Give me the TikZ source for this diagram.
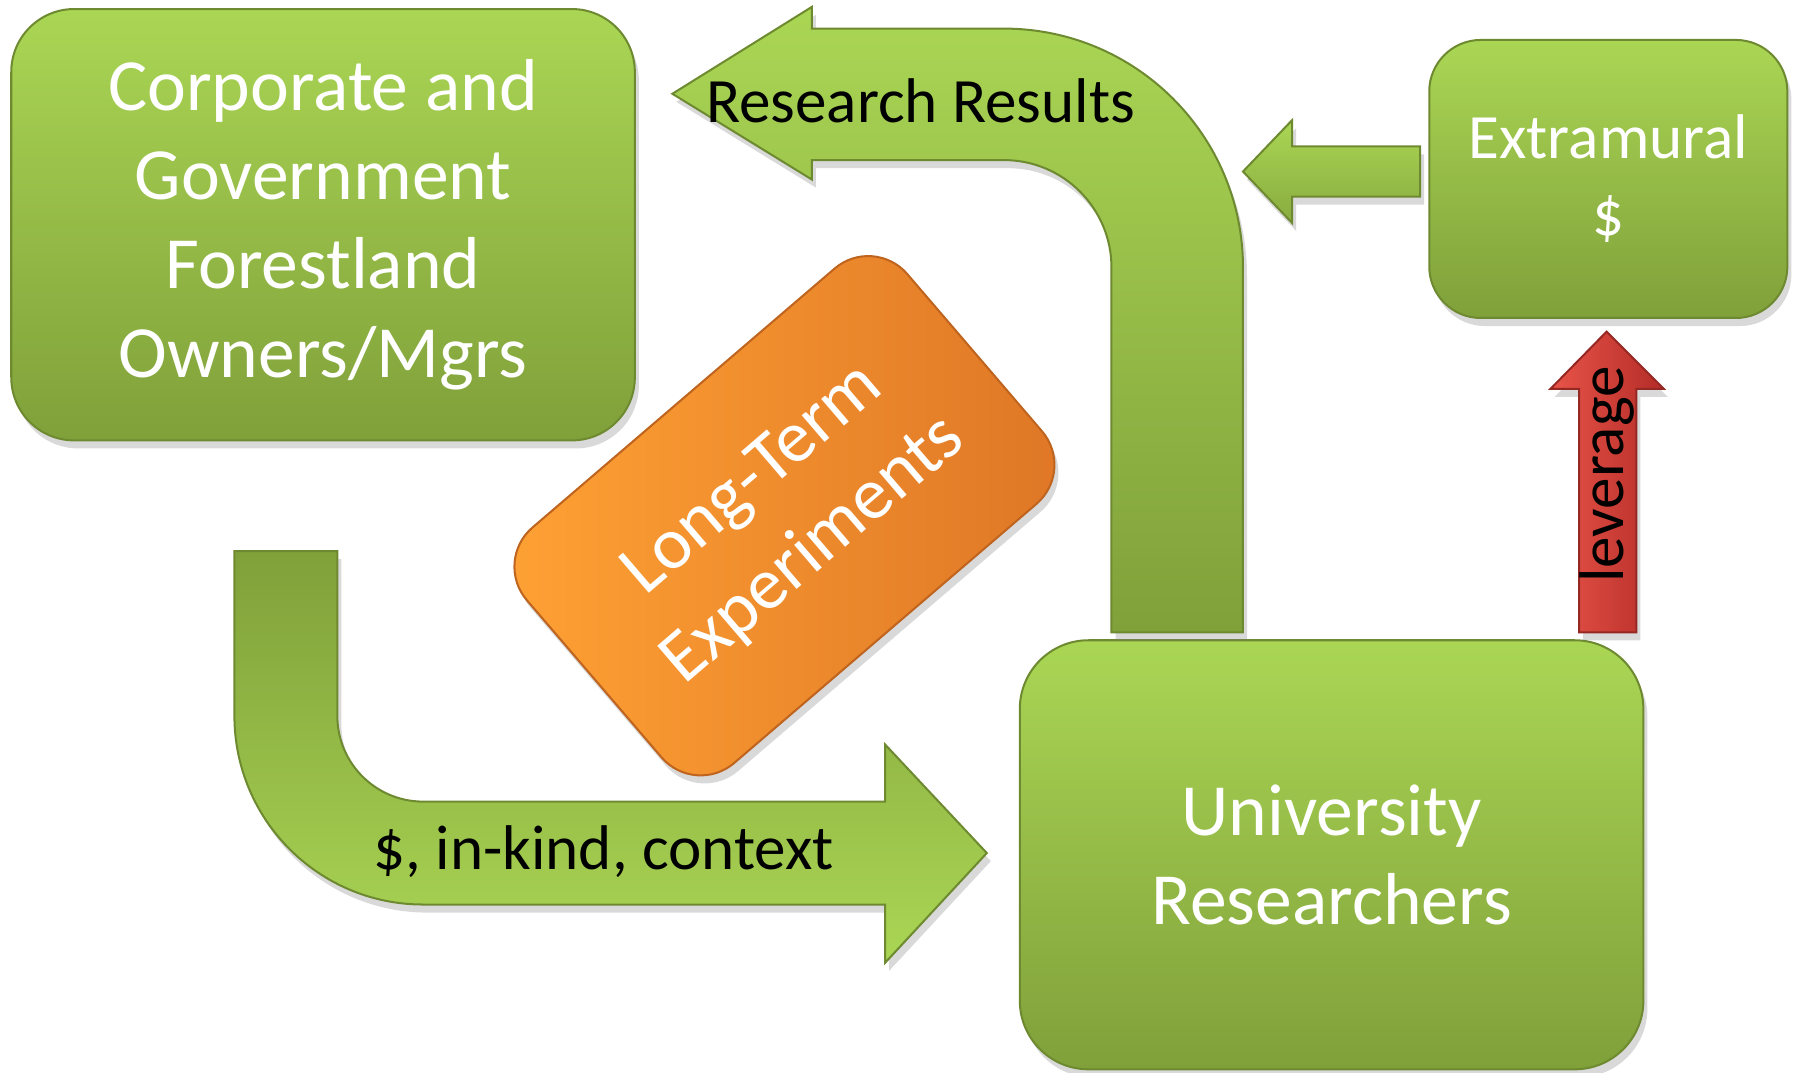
\documentclass[tikz,border=0pt]{standalone}
\usepackage{fontspec}
\setmainfont{Carlito}
\usetikzlibrary{shadows}

\definecolor{grnTop}{RGB}{170,214,84}
\definecolor{grnBot}{RGB}{128,160,58}
\definecolor{grnLine}{RGB}{110,138,48}
\definecolor{orgLight}{RGB}{255,162,52}
\definecolor{orgDark}{RGB}{222,118,38}
\definecolor{orgLine}{RGB}{190,100,30}
\definecolor{redLight}{RGB}{232,84,72}
\definecolor{redDark}{RGB}{180,44,40}
\definecolor{redLine}{RGB}{150,40,35}

\newcommand{\bigfont}{\fontsize{18.3}{22.2}\selectfont}
\newcommand{\smallfont}{\fontsize{15.7}{19.2}\selectfont}

\begin{document}
\begin{tikzpicture}[x=0.01cm,y=-0.01cm,
  box/.style={rounded corners=0.55cm,top color=grnTop,bottom color=grnBot,draw=grnLine,
    line width=0.5pt,text=white,align=center,font=\bigfont,
    drop shadow={opacity=0.3,shadow xshift=1pt,shadow yshift=-2pt}},
  block arrow/.style={draw=grnLine,line width=0.5pt,
    drop shadow={opacity=0.3,shadow xshift=1pt,shadow yshift=-2pt}},
  arrowtext/.style={font=\smallfont,text=black}]
  \useasboundingbox (0,0) rectangle (1568,938);

  % boxes
  \node[box,minimum width=5.45cm,minimum height=3.77cm] (owners) at (282.5,196.5)
    {Corporate and\\Government\\Forestland\\Owners/Mgrs};
  \node[box,minimum width=3.13cm,minimum height=2.43cm,rounded corners=0.45cm,font=\smallfont] (extra) at (1406.5,156.5)
    {Extramural\\\$};
  \node[box,minimum width=5.45cm,minimum height=3.75cm,rounded corners=0.6cm] (univ) at (1164.5,747.5)
    {University\\Researchers};
  \node[box,rotate=40.6,minimum width=4.38cm,minimum height=2.71cm,rounded corners=0.45cm,
    left color=orgLight,right color=orgDark,draw=orgLine,font=\fontsize{18.3}{23.2}\selectfont] (lte) at (686,451)
    {Long-Term\\Experiments};

  % research results arrow
  \path[block arrow,top color=grnTop,bottom color=grnBot]
    (588,82) -- (710,6) -- (710,25) -- (878,25)
    .. controls (993.4,25) and (1087,118.6) .. (1087,234)
    -- (1087,553) -- (972,553) -- (972,234)
    .. controls (972,182.1) and (929.9,140) .. (878,140)
    -- (710,140) -- (710,157) -- cycle;
  % money arrow
  \path[block arrow,top color=grnBot,bottom color=grnTop]
    (205,482) -- (295,482) -- (295,626)
    .. controls (295,667.4) and (328.6,701) .. (370,701)
    -- (774,701) -- (774,651) -- (863,746) -- (774,842) -- (774,791) -- (370,791)
    .. controls (278.9,791) and (205,717.1) .. (205,626) -- cycle;
  % extramural arrow
  \path[block arrow,top color=grnTop,bottom color=grnBot!80!grnTop]
    (1087,150) -- (1130,105) -- (1130,128) -- (1242,128) -- (1242,172)
    -- (1130,172) -- (1130,195) -- cycle;
  % leverage arrow
  \path[block arrow,draw=redLine,left color=redLight,right color=redDark]
    (1381,553) -- (1381,340) -- (1356,340) -- (1405,290) -- (1455,340)
    -- (1431,340) -- (1431,553) -- cycle;

  \node[arrowtext] (results) at (805,88) {Research Results};
  \node[arrowtext] (inkind) at (528,745) {\$, in-kind, context};
  \node[arrowtext,rotate=90] (lever) at (1405,415) {leverage};
\end{tikzpicture}
\end{document}
